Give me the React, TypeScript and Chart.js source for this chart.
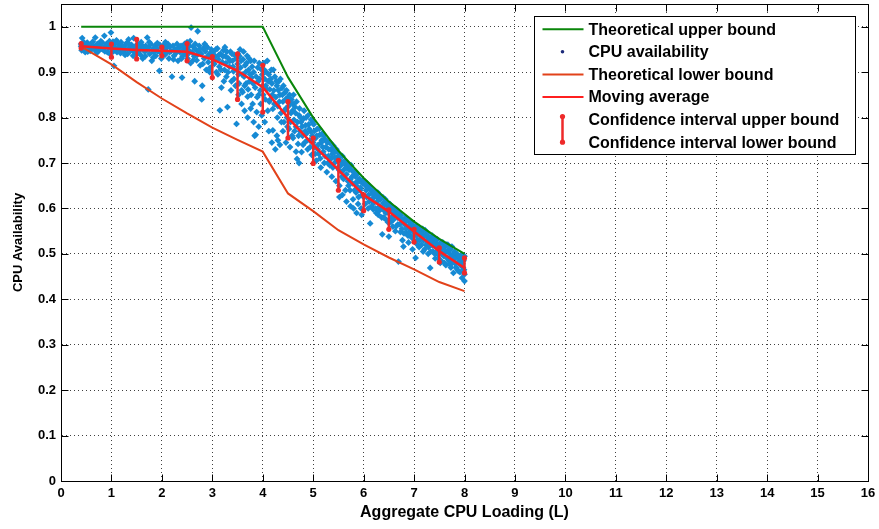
import React, { useEffect, useRef } from 'react';
import { Chart, registerables } from 'chart.js';

Chart.register(...registerables);

// ---------- data ----------
const xTicks = [0, 1, 2, 3, 4, 5, 6, 7, 8, 9, 10, 11, 12, 13, 14, 15, 16];
const yTicks = [0, 0.1, 0.2, 0.3, 0.4, 0.5, 0.6, 0.7, 0.8, 0.9, 1];

const upperX = [0.4, 4, 4.5, 5, 5.5, 6, 6.5, 7, 7.5, 8];
const upperY = [1, 1, 0.889, 0.8, 0.727, 0.667, 0.615, 0.571, 0.533, 0.5];

const lowerX = [0.4, 1, 1.5, 2, 2.5, 3, 3.5, 4, 4.5, 5, 5.5, 6, 6.5, 7, 7.5, 8];
const lowerY = [0.956, 0.917, 0.878, 0.842, 0.809, 0.778, 0.751, 0.725, 0.633, 0.594, 0.552, 0.521, 0.492, 0.466, 0.438, 0.418];

const avgX = [0.4, 1, 1.5, 2, 2.5, 3, 3.5, 4, 4.5, 5, 5.5, 6, 6.5, 7, 7.5, 8];
const avgY = [0.957, 0.952, 0.949, 0.947, 0.945, 0.928, 0.903, 0.867, 0.8, 0.74, 0.685, 0.63, 0.593, 0.549, 0.506, 0.469];

const ciX = [0.4, 1, 1.5, 2, 2.5, 3, 3.5, 4, 4.5, 5, 5.5, 6, 6.5, 7, 7.5, 8];
const ciUpper = [0.963, 0.962, 0.972, 0.955, 0.963, 0.934, 0.94, 0.915, 0.835, 0.755, 0.706, 0.63, 0.597, 0.554, 0.513, 0.491];
const ciLower = [0.953, 0.933, 0.929, 0.936, 0.925, 0.888, 0.84, 0.812, 0.755, 0.699, 0.64, 0.595, 0.554, 0.526, 0.482, 0.458];

const availA: [number, number][] = [
  [0.40, 0.957], [0.40, 0.962], [0.41, 0.948], [0.42, 0.975], [0.44, 0.953], [0.46, 0.960], [0.48, 0.944],
  [0.50, 0.956], [0.52, 0.965], [0.54, 0.951], [0.56, 0.958], [0.58, 0.947], [0.60, 0.962], [0.62, 0.954],
  [0.64, 0.958], [0.66, 0.950], [0.68, 0.976], [0.70, 0.956], [0.72, 0.962], [0.74, 0.946], [0.76, 0.955],
  [0.78, 0.960], [0.80, 0.952], [0.82, 0.965], [0.84, 0.949], [0.86, 0.980], [0.88, 0.957], [0.90, 0.962],
  [0.92, 0.944], [0.94, 0.953], [0.96, 0.968], [0.98, 0.955], [0.99, 0.987], [1.00, 0.950], [0.97, 0.940],
  [1.02, 0.958], [1.04, 0.946], [1.05, 0.914], [1.06, 0.962], [1.08, 0.953], [1.10, 0.970], [1.12, 0.963],
  [1.14, 0.948], [1.16, 0.956], [1.18, 0.942], [1.20, 0.960], [1.22, 0.952], [1.24, 0.945], [1.26, 0.958],
  [1.28, 0.950], [1.30, 0.964], [1.32, 0.940], [1.34, 0.972], [1.36, 0.955], [1.38, 0.947], [1.40, 0.960],
  [1.42, 0.952], [1.44, 0.975], [1.46, 0.943], [1.48, 0.957], [1.50, 0.950], [1.52, 0.962], [1.54, 0.946],
  [1.56, 0.955], [1.58, 0.938], [1.60, 0.960], [1.62, 0.930], [1.64, 0.952], [1.66, 0.945], [1.68, 0.958],
  [1.70, 0.948], [1.71, 0.976], [1.73, 0.862], [1.74, 0.955], [1.76, 0.940], [1.78, 0.962], [1.80, 0.925],
  [1.82, 0.950], [1.84, 0.944], [1.86, 0.958], [1.88, 0.936], [1.90, 0.952], [1.92, 0.946], [1.95, 0.903],
  [1.96, 0.960], [1.98, 0.942], [2.00, 0.955],
  [0.45, 0.966], [0.53, 0.945], [0.63, 0.967], [0.71, 0.943], [0.79, 0.968], [0.87, 0.946], [0.95, 0.962],
  [1.03, 0.967], [1.11, 0.944], [1.19, 0.966], [1.27, 0.938], [1.35, 0.962], [1.43, 0.936], [1.51, 0.942],
  [1.59, 0.966], [1.67, 0.935], [1.75, 0.966], [1.83, 0.932], [1.91, 0.964], [1.99, 0.930],
];

const availB: [number, number][] = [
  [2.02, 0.948], [2.04, 0.960], [2.06, 0.938], [2.08, 0.952], [2.10, 0.944], [2.12, 0.962], [2.14, 0.930],
  [2.16, 0.956], [2.18, 0.946], [2.20, 0.890], [2.22, 0.958], [2.24, 0.936], [2.26, 0.950], [2.28, 0.942],
  [2.30, 0.962], [2.32, 0.925], [2.34, 0.954], [2.36, 0.944], [2.38, 0.958], [2.40, 0.888], [2.41, 0.935],
  [2.43, 0.950], [2.45, 0.962], [2.47, 0.940], [2.49, 0.955], [2.51, 0.930], [2.53, 0.948], [2.55, 0.958],
  [2.57, 0.920], [2.58, 0.998], [2.60, 0.944], [2.62, 0.956], [2.64, 0.935], [2.65, 0.880], [2.67, 0.950],
  [2.69, 0.926], [2.71, 0.990], [2.72, 0.945], [2.74, 0.958], [2.76, 0.915], [2.78, 0.940], [2.79, 0.840],
  [2.80, 0.870], [2.82, 0.952], [2.84, 0.930], [2.86, 0.946], [2.88, 0.905], [2.90, 0.955], [2.92, 0.922],
  [2.94, 0.940], [2.96, 0.910], [2.98, 0.950], [3.00, 0.932], [2.85, 0.962], [2.50, 0.966],
  [2.07, 0.966], [2.15, 0.944], [2.23, 0.928], [2.31, 0.948], [2.39, 0.930], [2.46, 0.954], [2.52, 0.940],
  [2.56, 0.968], [2.61, 0.925], [2.66, 0.962], [2.70, 0.938], [2.75, 0.950], [2.81, 0.918], [2.87, 0.958],
  [2.91, 0.935], [2.95, 0.900], [2.99, 0.942],
];

const availC: [number, number][] = [
  [3.02, 0.945], [3.04, 0.918], [3.06, 0.935], [3.08, 0.900], [3.10, 0.952], [3.12, 0.928], [3.14, 0.912],
  [3.15, 0.816], [3.16, 0.940], [3.18, 0.866], [3.20, 0.922], [3.22, 0.948], [3.24, 0.905], [3.26, 0.935],
  [3.28, 0.890], [3.30, 0.823], [3.32, 0.930], [3.34, 0.912], [3.36, 0.945], [3.38, 0.880], [3.40, 0.925],
  [3.42, 0.902], [3.44, 0.938], [3.46, 0.870], [3.48, 0.786], [3.50, 0.918], [3.52, 0.895], [3.54, 0.935],
  [3.56, 0.910], [3.58, 0.860], [3.60, 0.856], [3.61, 0.928], [3.63, 0.890], [3.65, 0.915], [3.67, 0.875],
  [3.69, 0.936], [3.70, 0.846], [3.72, 0.905], [3.74, 0.880], [3.76, 0.925], [3.78, 0.888], [3.80, 0.830],
  [3.82, 0.900], [3.84, 0.760], [3.85, 0.866], [3.86, 0.762], [3.88, 0.812], [3.90, 0.910], [3.92, 0.850],
  [3.94, 0.885], [3.96, 0.830], [3.97, 0.906], [3.98, 0.805], [4.00, 0.870], [3.55, 0.950], [3.25, 0.955],
  [3.03, 0.925], [3.07, 0.950], [3.11, 0.895], [3.13, 0.938], [3.17, 0.905], [3.21, 0.935], [3.23, 0.880],
  [3.27, 0.920], [3.29, 0.945], [3.31, 0.900], [3.35, 0.925], [3.37, 0.860], [3.39, 0.940], [3.41, 0.912],
  [3.43, 0.885], [3.47, 0.930], [3.49, 0.905], [3.51, 0.940], [3.53, 0.875], [3.57, 0.925], [3.59, 0.895],
  [3.62, 0.945], [3.64, 0.870], [3.66, 0.900], [3.68, 0.920], [3.71, 0.862], [3.73, 0.930], [3.75, 0.895],
  [3.77, 0.850], [3.79, 0.912], [3.81, 0.875], [3.83, 0.925], [3.87, 0.890], [3.89, 0.845], [3.91, 0.880],
  [3.93, 0.920], [3.95, 0.860], [3.99, 0.895],
  [3.52, 0.850], [3.58, 0.830], [3.64, 0.815], [3.70, 0.800], [3.76, 0.820], [3.82, 0.790], [3.92, 0.780],
];

const availD: [number, number][] = [
  [4.02, 0.920], [4.04, 0.885], [4.05, 0.840], [4.07, 0.900], [4.08, 0.862], [4.10, 0.815], [4.12, 0.895],
  [4.14, 0.862], [4.15, 0.840], [4.17, 0.905], [4.18, 0.875], [4.20, 0.819], [4.20, 0.772], [4.22, 0.860],
  [4.24, 0.890], [4.25, 0.730], [4.26, 0.845], [4.28, 0.870], [4.30, 0.750], [4.30, 0.825], [4.32, 0.880],
  [4.34, 0.850], [4.36, 0.810], [4.38, 0.865], [4.40, 0.835], [4.42, 0.790], [4.44, 0.855], [4.46, 0.820],
  [4.48, 0.800], [4.50, 0.845], [4.52, 0.775], [4.54, 0.830], [4.56, 0.810], [4.58, 0.760], [4.60, 0.830],
  [4.62, 0.795], [4.64, 0.823], [4.66, 0.780], [4.68, 0.709], [4.70, 0.742], [4.72, 0.805], [4.74, 0.770],
  [4.76, 0.790], [4.77, 0.724], [4.79, 0.760], [4.81, 0.798], [4.83, 0.745], [4.85, 0.783], [4.87, 0.765],
  [4.89, 0.730], [4.91, 0.785], [4.93, 0.750], [4.95, 0.770], [4.97, 0.718], [4.99, 0.790], [5.00, 0.745],
  [4.01, 0.850], [4.03, 0.905], [4.06, 0.870], [4.09, 0.925], [4.11, 0.880], [4.13, 0.835], [4.16, 0.885],
  [4.19, 0.850], [4.21, 0.905], [4.23, 0.830], [4.27, 0.880], [4.29, 0.800], [4.31, 0.860], [4.33, 0.835],
  [4.35, 0.885], [4.37, 0.790], [4.39, 0.850], [4.41, 0.870], [4.43, 0.815], [4.45, 0.840], [4.47, 0.860],
  [4.49, 0.780], [4.51, 0.825], [4.53, 0.850], [4.55, 0.790], [4.57, 0.840], [4.59, 0.815], [4.61, 0.850],
  [4.63, 0.770], [4.65, 0.810], [4.67, 0.835], [4.69, 0.790], [4.71, 0.760], [4.73, 0.820], [4.75, 0.800],
  [4.78, 0.780], [4.80, 0.740], [4.82, 0.815], [4.84, 0.770], [4.86, 0.800], [4.88, 0.750], [4.90, 0.805],
  [4.92, 0.775], [4.94, 0.735], [4.96, 0.795], [4.98, 0.760],
  [4.04, 0.790], [4.12, 0.770], [4.18, 0.745], [4.28, 0.760], [4.34, 0.740], [4.40, 0.770], [4.46, 0.745],
  [4.54, 0.735], [4.60, 0.755], [4.66, 0.725], [4.72, 0.700],
];

const availE: [number, number][] = [
  [5.02, 0.770], [5.03, 0.735], [5.05, 0.755], [5.06, 0.705], [5.08, 0.775], [5.10, 0.740], [5.11, 0.720],
  [5.13, 0.762], [5.15, 0.690], [5.16, 0.745], [5.18, 0.765], [5.20, 0.725], [5.22, 0.700], [5.23, 0.752],
  [5.25, 0.735], [5.27, 0.680], [5.28, 0.745], [5.30, 0.715], [5.32, 0.745], [5.33, 0.695], [5.35, 0.730],
  [5.37, 0.670], [5.38, 0.720], [5.40, 0.738], [5.42, 0.700], [5.44, 0.725], [5.45, 0.660], [5.47, 0.712],
  [5.49, 0.690], [5.50, 0.722], [5.52, 0.650], [5.54, 0.705], [5.56, 0.680], [5.58, 0.715], [5.60, 0.665],
  [5.62, 0.700], [5.64, 0.640], [5.65, 0.690], [5.67, 0.700], [5.69, 0.660], [5.71, 0.685], [5.73, 0.640],
  [5.75, 0.695], [5.77, 0.670], [5.79, 0.620], [5.81, 0.680], [5.83, 0.655], [5.85, 0.635], [5.87, 0.675],
  [5.89, 0.610], [5.91, 0.660], [5.93, 0.640], [5.95, 0.600], [5.96, 0.586], [5.98, 0.655], [6.00, 0.625],
  [5.01, 0.785], [5.04, 0.720], [5.07, 0.760], [5.09, 0.730], [5.12, 0.775], [5.14, 0.710], [5.17, 0.750],
  [5.19, 0.735], [5.21, 0.760], [5.24, 0.715], [5.26, 0.750], [5.29, 0.700], [5.31, 0.730], [5.34, 0.745],
  [5.36, 0.710], [5.39, 0.690], [5.41, 0.725], [5.43, 0.712], [5.46, 0.730], [5.48, 0.705], [5.51, 0.685],
  [5.53, 0.715], [5.55, 0.695], [5.57, 0.670], [5.59, 0.700], [5.61, 0.685], [5.63, 0.705], [5.66, 0.675],
  [5.68, 0.690], [5.70, 0.650], [5.72, 0.695], [5.74, 0.665], [5.76, 0.685], [5.78, 0.655], [5.80, 0.680],
  [5.82, 0.640], [5.84, 0.670], [5.86, 0.650], [5.88, 0.660], [5.90, 0.625], [5.92, 0.665], [5.94, 0.645],
  [5.97, 0.630], [5.99, 0.662],
  [5.52, 0.625], [5.58, 0.630], [5.66, 0.615], [5.74, 0.605], [5.80, 0.600], [5.86, 0.590],
];

const availF: [number, number][] = [
  [6.02, 0.660], [6.03, 0.610], [6.05, 0.640], [6.07, 0.655], [6.09, 0.600], [6.10, 0.630], [6.12, 0.648],
  [6.13, 0.567], [6.15, 0.620], [6.17, 0.640], [6.19, 0.598], [6.21, 0.625], [6.23, 0.636], [6.25, 0.590],
  [6.27, 0.615], [6.29, 0.586], [6.30, 0.632], [6.32, 0.605], [6.34, 0.625], [6.36, 0.580], [6.37, 0.543],
  [6.39, 0.612], [6.41, 0.595], [6.43, 0.620], [6.45, 0.575], [6.47, 0.605], [6.49, 0.590], [6.50, 0.538],
  [6.52, 0.610], [6.54, 0.570], [6.56, 0.598], [6.58, 0.560], [6.60, 0.585], [6.62, 0.600], [6.63, 0.550],
  [6.66, 0.590], [6.68, 0.565], [6.69, 0.483], [6.71, 0.580], [6.73, 0.548], [6.75, 0.575], [6.77, 0.530],
  [6.79, 0.516], [6.81, 0.565], [6.83, 0.580], [6.85, 0.545], [6.87, 0.560], [6.89, 0.525], [6.91, 0.570],
  [6.93, 0.540], [6.95, 0.555], [6.97, 0.510], [6.99, 0.562],
  [6.04, 0.650], [6.06, 0.625], [6.08, 0.645], [6.11, 0.615], [6.14, 0.640], [6.16, 0.605], [6.18, 0.632],
  [6.20, 0.612], [6.22, 0.635], [6.24, 0.600], [6.26, 0.625], [6.28, 0.635], [6.31, 0.595], [6.33, 0.620],
  [6.35, 0.600], [6.38, 0.625], [6.40, 0.580], [6.42, 0.608], [6.44, 0.590], [6.46, 0.612], [6.48, 0.570],
  [6.51, 0.598], [6.53, 0.605], [6.55, 0.580], [6.57, 0.600], [6.59, 0.575], [6.61, 0.590], [6.64, 0.560],
  [6.65, 0.598], [6.67, 0.580], [6.70, 0.590], [6.72, 0.565], [6.74, 0.585], [6.76, 0.555], [6.78, 0.575],
  [6.80, 0.545], [6.82, 0.570], [6.84, 0.555], [6.86, 0.575], [6.88, 0.540], [6.90, 0.560], [6.92, 0.550],
  [6.94, 0.568], [6.96, 0.535], [6.98, 0.550],
];

const availG: [number, number][] = [
  [7.01, 0.545], [7.03, 0.491], [7.04, 0.560], [7.06, 0.530], [7.08, 0.550], [7.10, 0.515], [7.12, 0.555],
  [7.14, 0.535], [7.16, 0.549], [7.18, 0.505], [7.20, 0.540], [7.22, 0.552], [7.24, 0.520], [7.26, 0.538],
  [7.28, 0.500], [7.30, 0.530], [7.32, 0.469], [7.34, 0.522], [7.36, 0.540], [7.38, 0.505], [7.40, 0.528],
  [7.42, 0.490], [7.44, 0.515], [7.46, 0.532], [7.48, 0.498], [7.50, 0.520], [7.52, 0.480], [7.54, 0.510],
  [7.55, 0.483], [7.57, 0.525], [7.59, 0.495], [7.61, 0.515], [7.63, 0.475], [7.65, 0.505], [7.67, 0.520],
  [7.69, 0.485], [7.71, 0.500], [7.73, 0.470], [7.75, 0.516], [7.77, 0.490], [7.78, 0.458], [7.80, 0.505],
  [7.82, 0.478], [7.84, 0.495], [7.86, 0.465], [7.88, 0.462], [7.90, 0.490], [7.92, 0.475], [7.94, 0.498],
  [7.95, 0.447], [7.97, 0.470], [7.98, 0.485], [8.00, 0.455], [8.00, 0.495], [8.00, 0.440],
  [7.02, 0.560], [7.05, 0.540], [7.07, 0.520], [7.09, 0.555], [7.11, 0.530], [7.13, 0.545], [7.15, 0.520],
  [7.17, 0.555], [7.19, 0.530], [7.21, 0.510], [7.23, 0.540], [7.25, 0.528], [7.27, 0.545], [7.29, 0.515],
  [7.31, 0.535], [7.33, 0.505], [7.35, 0.530], [7.37, 0.518], [7.39, 0.535], [7.41, 0.500], [7.43, 0.525],
  [7.45, 0.505], [7.47, 0.520], [7.49, 0.490], [7.51, 0.512], [7.53, 0.525], [7.56, 0.500], [7.58, 0.515],
  [7.60, 0.480], [7.62, 0.505], [7.64, 0.520], [7.66, 0.490], [7.68, 0.508], [7.70, 0.478], [7.72, 0.510],
  [7.74, 0.495], [7.76, 0.480], [7.79, 0.500], [7.81, 0.490], [7.83, 0.470], [7.85, 0.500], [7.87, 0.482],
  [7.89, 0.495], [7.91, 0.460], [7.93, 0.488], [7.96, 0.478], [7.99, 0.465],
];

const legendLabels = [
  'Theoretical upper bound',
  'CPU availability',
  'Theoretical lower bound',
  'Moving average',
  'Confidence interval upper bound',
  'Confidence interval lower bound',
];

const xTitle = 'Aggregate CPU Loading (L)';
const yTitle = 'CPU Availability';

// ---------- styles ----------
const FAMILY = '"Liberation Sans", Arial, Helvetica, sans-serif';
const GREEN = '#0a860a';
const BLUE = 'rgb(22,138,212)';
const ORANGE = '#e2421a';
const RED = '#ff1f1f';
const CI_RED = '#ee2a2a';

const toPts = (xs: number[], ys: number[]) => xs.map((x, i) => ({ x, y: ys[i] }));

const framePlugin = {
  id: 'matlabFrame',
  afterDatasetsDraw(chart: any) {
    const ctx = chart.ctx;
    const up = chart.getDatasetMeta(4).data;
    const lo = chart.getDatasetMeta(5).data;
    ctx.save();
    ctx.strokeStyle = CI_RED;
    ctx.lineWidth = 2.5;
    ctx.beginPath();
    for (let i = 0; i < up.length; i++) {
      ctx.moveTo(up[i].x, up[i].y);
      ctx.lineTo(lo[i].x, lo[i].y);
    }
    ctx.stroke();
    ctx.restore();
  },
  afterDraw(chart: any) {
    const { ctx, chartArea: a, scales } = chart;
    const xs = scales.x;
    const ys = scales.y;
    const L = Math.round(a.left) + 0.5;
    const R = Math.round(a.right) + 0.5;
    const T = Math.round(a.top) + 0.5;
    const B = Math.round(a.bottom) + 0.5;
    const tk = 7;
    ctx.save();
    ctx.strokeStyle = '#000';
    ctx.lineWidth = 1;
    ctx.beginPath();
    ctx.moveTo(L, T);
    ctx.lineTo(R, T);
    ctx.lineTo(R, B);
    ctx.lineTo(L, B);
    ctx.closePath();
    xTicks.forEach((v) => {
      const px = Math.round(xs.getPixelForValue(v)) + 0.5;
      ctx.moveTo(px, B);
      ctx.lineTo(px, B - tk);
      ctx.moveTo(px, T);
      ctx.lineTo(px, T + tk);
    });
    yTicks.forEach((v) => {
      const py = Math.round(ys.getPixelForValue(v)) + 0.5;
      ctx.moveTo(L, py);
      ctx.lineTo(L + tk, py);
      ctx.moveTo(R, py);
      ctx.lineTo(R - tk, py);
    });
    ctx.stroke();

    // legend
    const lw = 321;
    const lh = 138;
    const bx = Math.round(a.right - 13 - lw) + 0.5;
    const by = Math.round(a.top + 12) + 0.5;
    ctx.fillStyle = '#fff';
    ctx.fillRect(bx, by, lw, lh);
    ctx.strokeStyle = '#000';
    ctx.lineWidth = 1;
    ctx.strokeRect(bx, by, lw, lh);
    const rows = [12.7, 35.3, 57.9, 80.5, 103.1, 125.7];
    const sx0 = bx + 8;
    const sx1 = bx + 49;
    const mx = bx + 28;
    const lineSample = (row: number, color: string, w: number) => {
      ctx.strokeStyle = color;
      ctx.lineWidth = w;
      ctx.beginPath();
      ctx.moveTo(sx0, by + rows[row]);
      ctx.lineTo(sx1, by + rows[row]);
      ctx.stroke();
    };
    lineSample(0, GREEN, 2);
    ctx.fillStyle = '#1c2a7a';
    ctx.beginPath();
    ctx.arc(mx, by + rows[1], 1.8, 0, Math.PI * 2);
    ctx.fill();
    lineSample(2, ORANGE, 2);
    lineSample(3, RED, 2);
    ctx.strokeStyle = CI_RED;
    ctx.lineWidth = 2.5;
    ctx.beginPath();
    ctx.moveTo(mx, by + rows[4] - 3);
    ctx.lineTo(mx, by + rows[5]);
    ctx.stroke();
    ctx.fillStyle = CI_RED;
    [by + rows[4] - 3, by + rows[5]].forEach((yy) => {
      ctx.beginPath();
      ctx.arc(mx, yy, 2.6, 0, Math.PI * 2);
      ctx.fill();
    });
    ctx.fillStyle = '#000';
    ctx.font = `bold 16px ${FAMILY}`;
    ctx.textBaseline = 'middle';
    ctx.textAlign = 'left';
    legendLabels.forEach((t, i) => ctx.fillText(t, bx + 54, by + rows[i] + 1));
    ctx.restore();
  },
};

export default function App() {
  const ref = useRef<HTMLCanvasElement | null>(null);

  useEffect(() => {
    if (!ref.current) return;
    const avail = [...availA, ...availB, ...availC, ...availD, ...availE, ...availF, ...availG].map(([x, y]) => ({ x, y }));
    const tickFont = { family: FAMILY, size: 13, weight: 'bold' as const };
    const chart = new Chart(ref.current, {
      type: 'scatter',
      data: {
        datasets: [
          {
            label: legendLabels[0],
            data: toPts(upperX, upperY),
            showLine: true,
            borderColor: GREEN,
            borderWidth: 2,
            pointRadius: 0,
            order: 3,
          },
          {
            label: legendLabels[1],
            data: avail,
            showLine: false,
            pointStyle: 'rectRot',
            pointRadius: 3.4,
            backgroundColor: BLUE,
            borderColor: BLUE,
            borderWidth: 0,
            order: 6,
          },
          {
            label: legendLabels[2],
            data: toPts(lowerX, lowerY),
            showLine: true,
            borderColor: ORANGE,
            borderWidth: 2,
            pointRadius: 0,
            order: 4,
          },
          {
            label: legendLabels[3],
            data: toPts(avgX, avgY),
            showLine: true,
            borderColor: RED,
            borderWidth: 2.5,
            pointRadius: 0,
            order: 2,
          },
          {
            label: legendLabels[4],
            data: toPts(ciX, ciUpper),
            showLine: false,
            pointStyle: 'circle',
            pointRadius: 2.6,
            backgroundColor: CI_RED,
            borderWidth: 0,
            order: 1,
          },
          {
            label: legendLabels[5],
            data: toPts(ciX, ciLower),
            showLine: false,
            pointStyle: 'circle',
            pointRadius: 2.6,
            backgroundColor: CI_RED,
            borderWidth: 0,
            order: 1,
          },
        ],
      },
      options: {
        responsive: false,
        animation: false,
        events: [],
        layout: { padding: { top: 3, right: 11, left: 0, bottom: 0 } },
        plugins: { legend: { display: false }, tooltip: { enabled: false } },
        scales: {
          x: {
            type: 'linear',
            min: 0,
            max: 16,
            afterBuildTicks: (s: any) => {
              s.ticks = xTicks.map((v) => ({ value: v }));
            },
            afterFit: (s: any) => {
              s.height = 48;
              s.paddingLeft = 0;
              s.paddingRight = 0;
            },
            ticks: {
              font: tickFont,
              color: '#000',
              padding: 5,
              maxRotation: 0,
              autoSkip: false,
              callback: (v: any) => String(v),
            },
            grid: { color: 'rgba(0,0,0,0.75)', lineWidth: 1, drawTicks: false },
            border: { display: true, color: '#000', width: 1, dash: [1, 3] },
            title: {
              display: true,
              text: xTitle,
              color: '#000',
              font: { family: FAMILY, size: 16, weight: 'bold' },
              padding: { top: 0, bottom: 7 },
            },
          },
          y: {
            type: 'linear',
            min: 0,
            max: 1.05,
            afterBuildTicks: (s: any) => {
              s.ticks = yTicks.map((v) => ({ value: v }));
            },
            afterFit: (s: any) => {
              s.width = 61;
              s.paddingTop = 0;
              s.paddingBottom = 0;
            },
            ticks: {
              font: tickFont,
              color: '#000',
              padding: 5,
              autoSkip: false,
              callback: (v: any) => (Number.isInteger(v) ? String(v) : Number(v).toFixed(1)),
            },
            grid: { color: 'rgba(0,0,0,0.75)', lineWidth: 1, drawTicks: false },
            border: { display: true, color: '#000', width: 1, dash: [1, 3] },
            title: {
              display: true,
              text: yTitle,
              color: '#000',
              font: { family: FAMILY, size: 13, weight: 'bold' },
              padding: { top: 11, bottom: 0 },
            },
          },
        },
      },
      plugins: [framePlugin],
    });
    return () => chart.destroy();
  }, []);

  return (
    <div style={{ position: 'absolute', left: 0, top: 0, width: 879, height: 529, background: '#fff' }}>
      <canvas ref={ref} width={879} height={529} style={{ display: 'block' }} />
    </div>
  );
}
